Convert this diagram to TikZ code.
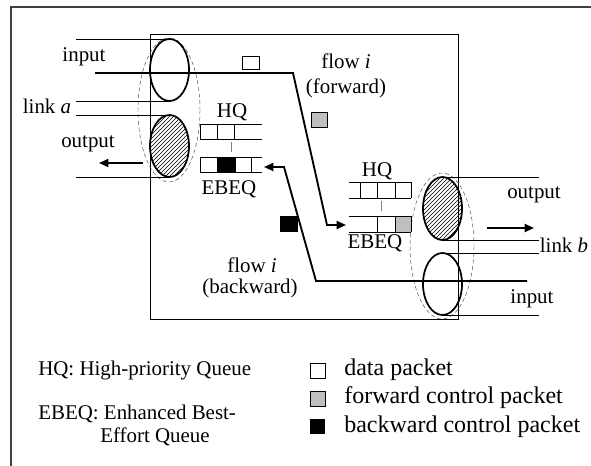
\documentclass[tikz,border=0pt]{standalone}
\usepackage{fontspec}
\setmainfont{Liberation Serif}
\usetikzlibrary{arrows.meta,patterns}

\begin{document}
\begin{tikzpicture}[x=0.75pt,y=-0.75pt,
  lbl/.style={font=\fontsize{15.7}{18}\selectfont, inner sep=0pt},
  keylbl/.style={font=\fontsize{18}{21}\selectfont, inner sep=0pt, anchor=west},
  flowline/.style={line width=1.4pt},
  port/.style={line width=1.3pt},
  thinline/.style={line width=0.7pt},
  link/.style={densely dashed, line width=0.35pt, black!70},
  pkt/.style={draw, line width=0.7pt},
  arr/.style={-{Triangle[length=7pt,width=6pt]}}]

  \useasboundingbox (0,0) rectangle (591,466);

  % Outer frame (only the top and left edges are in the picture)
  \coordinate (F1) at (11,466);
  \coordinate (F2) at (11,7);
  \coordinate (F3) at (591,7);
  \draw[line width=0.9pt, black!75] (F1) -- (F2) -- (F3);

  % Network box
  \draw[thinline] (150,34) rectangle (458,319);

  % Left node (link a)
  \draw[link] (169,110) ellipse [x radius=31, y radius=72];
  \draw[thinline] (76,39) -- (169,39);
  \draw[thinline] (76,101) -- (169,101);
  \draw[thinline] (76,115) -- (169,115);
  \draw[thinline] (76,177) -- (169,177);
  \draw[port] (169.5,70) ellipse [x radius=19.5, y radius=31];
  \draw[port, pattern=north east lines] (169.5,146) ellipse [x radius=19.5, y radius=31];

  % Right node (link b)
  \draw[link] (442,246) ellipse [x radius=32, y radius=73];
  \draw[thinline] (442,177) -- (539,177);
  \draw[thinline] (442,240) -- (539,240);
  \draw[thinline] (442,253) -- (539,253);
  \draw[thinline] (442,315) -- (539,315);
  \draw[port, pattern=north east lines] (442.5,208.5) ellipse [x radius=19.5, y radius=31.5];
  \draw[port] (442.5,284) ellipse [x radius=19.5, y radius=31];

  % Left queues: HQ and EBEQ
  \draw[thinline] (200,124) -- (262,124);
  \draw[thinline] (200,139) -- (262,139);
  \foreach \x in {200,217,234} \draw[thinline] (\x,124) -- (\x,139);
  \draw[thinline, black!50] (231,142) -- (231,152);
  \fill (217,157) rectangle (235,172);
  \draw[thinline] (200,157) -- (262,157);
  \draw[thinline] (200,172) -- (262,172);
  \foreach \x in {200,217,235,251} \draw[thinline] (\x,157) -- (\x,172);

  % Right queues: HQ and EBEQ
  \draw[thinline] (349,182) -- (411,182);
  \draw[thinline] (349,198) -- (411,198);
  \foreach \x in {360,377,395,411} \draw[thinline] (\x,182) -- (\x,198);
  \draw[thinline, black!50] (381,201) -- (381,211);
  \fill[black!25] (395,216) rectangle (411,232);
  \draw[thinline] (349,216) -- (411,216);
  \draw[thinline] (349,232) -- (411,232);
  \foreach \x in {377,395,411} \draw[thinline] (\x,216) -- (\x,232);

  % Flow i, forward: link a input -> EBEQ at link b
  \coordinate (inA) at (95,73);
  \coordinate (fw1) at (293,73);
  \coordinate (fw2) at (327,225);
  \coordinate (qB) at (346,225);
  \draw[flowline, arr] (inA) -- (fw1) -- (fw2) -- (qB);

  % Flow i, backward: link b input -> EBEQ at link a
  \coordinate (inB) at (527,281);
  \coordinate (bw1) at (316,281);
  \coordinate (bw2) at (284,167);
  \coordinate (qA) at (264,167);
  \draw[flowline, arr] (inB) -- (bw1) -- (bw2) -- (qA);

  % Output arrows
  \coordinate (outA1) at (143,163);
  \coordinate (outA2) at (99,163);
  \draw[flowline, arr] (outA1) -- (outA2);
  \coordinate (outB1) at (487,228);
  \coordinate (outB2) at (534,228);
  \draw[flowline, arr] (outB1) -- (outB2);

  % Packets on the way
  \draw[pkt, fill=white] (242,56) rectangle (259,69);
  \draw[pkt, fill=black!25] (311,112) rectangle (327,127);
  \fill (280,216) rectangle (298,232);

  % Labels
  \node[lbl] (inAlbl) at (84,57) {input};
  \node[lbl] (linkA) at (47,106) {link \textit{a}};
  \node[lbl] (outAlbl) at (88,144) {output};
  \node[lbl] (hqA) at (232,112) {HQ};
  \node[lbl] (ebeqA) at (229,189) {EBEQ};
  \node[lbl] (hqB) at (377,171) {HQ};
  \node[lbl] (ebeqB) at (375,243) {EBEQ};
  \node[lbl] (outBlbl) at (534,195) {output};
  \node[lbl] (linkB) at (564,245) {link \textit{b}};
  \node[lbl] (inBlbl) at (532,299) {input};
  \node[lbl] (fwd1) at (346,61) {flow \textit{i}};
  \node[lbl] (fwd2) at (346,88) {(forward)};
  \node[lbl] (bwd1) at (252,265) {flow \textit{i}};
  \node[lbl] (bwd2) at (250,288) {(backward)};

  % Legend
  \node[lbl, anchor=west] (keyHQ) at (38,370) {HQ: High-priority Queue};
  \node[lbl, anchor=west] (keyEB1) at (38,414) {EBEQ: Enhanced Best-};
  \node[lbl, anchor=west] (keyEB2) at (100,437) {Effort Queue};
  \draw[pkt, fill=white] (310,363) rectangle (325,378);
  \draw[pkt, fill=black!25] (310,391) rectangle (325,406);
  \fill (310,419) rectangle (325,434);
  \node[keylbl] (keyData) at (344,370) {data packet};
  \node[keylbl] (keyFwd) at (344,398) {forward control packet};
  \node[keylbl] (keyBwd) at (344,427) {backward control packet};

\end{tikzpicture}
\end{document}
